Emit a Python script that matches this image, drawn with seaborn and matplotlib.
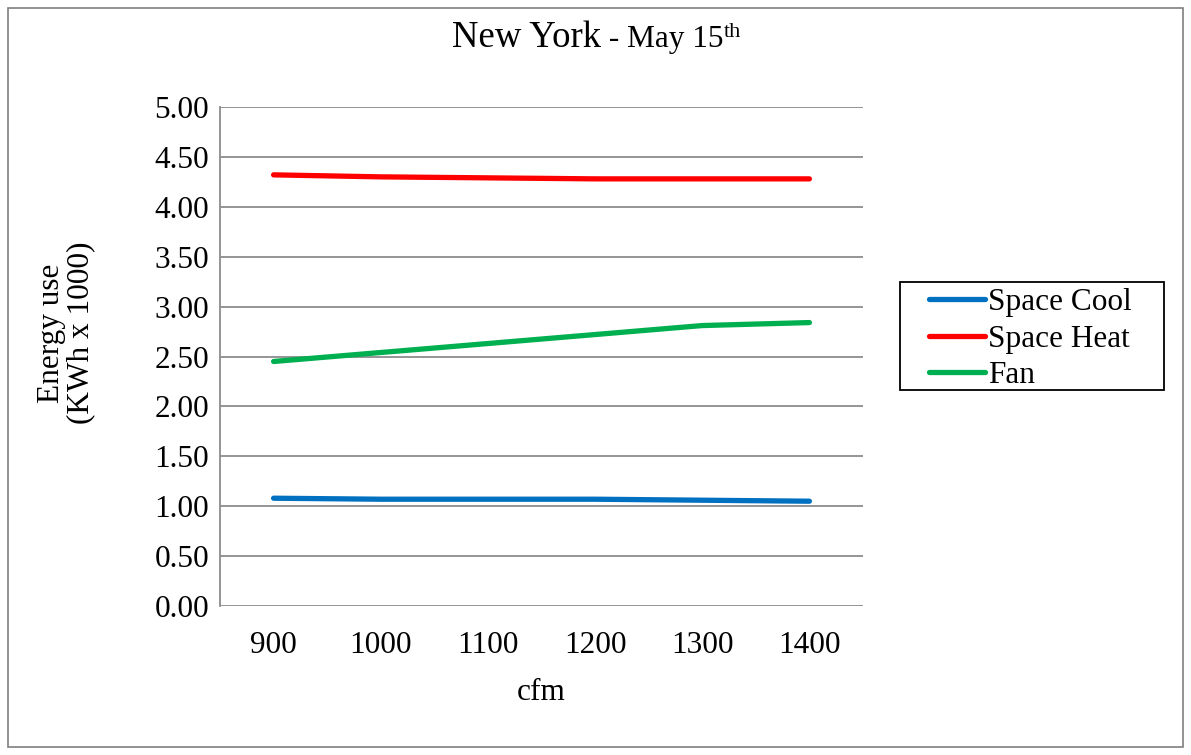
import matplotlib
matplotlib.use("Agg")
import matplotlib.pyplot as plt
import seaborn as sns
import pandas as pd
from matplotlib.patches import Rectangle

cfm = [900, 1000, 1100, 1200, 1300, 1400]
space_cool = [1.08, 1.07, 1.07, 1.07, 1.06, 1.05]
space_heat = [4.32, 4.30, 4.29, 4.28, 4.28, 4.28]
fan = [2.45, 2.54, 2.63, 2.72, 2.81, 2.84]
series_names = ["Space Cool", "Space Heat", "Fan"]
colors = ["#0070C0", "#FF0000", "#00B050"]
yticks = [0.0, 0.5, 1.0, 1.5, 2.0, 2.5, 3.0, 3.5, 4.0, 4.5, 5.0]

df = pd.concat([
    pd.DataFrame({"cfm": cfm, "value": vals, "series": name})
    for name, vals in zip(series_names, [space_cool, space_heat, fan])
])

sns.set_theme(style="white")
plt.rcParams["font.family"] = ["Liberation Serif", "DejaVu Serif"]
plt.rcParams["text.color"] = "black"
plt.rcParams["axes.labelcolor"] = "black"
plt.rcParams["xtick.color"] = "black"
plt.rcParams["ytick.color"] = "black"

FS = 22.5
W, H = 1191, 755
fig = plt.figure(figsize=(W / 100, H / 100), dpi=100)
ax = fig.add_axes([220 / W, 1 - 606 / H, (863 - 220) / W, (606 - 107) / H])

sns.lineplot(data=df, x="cfm", y="value", hue="series", palette=colors,
             hue_order=series_names, linewidth=3.8, ax=ax, legend=True,
             solid_capstyle="round")

ax.set_xlim(850, 1450)
ax.set_ylim(0, 5)
ax.set_yticks(yticks)
ax.set_yticklabels([f"{v:.2f}" for v in yticks], fontsize=FS)
ax.set_xticks(cfm)
ax.set_xticklabels([str(c) for c in cfm], fontsize=FS)
ax.tick_params(axis="both", length=0, pad=8, colors="black")
ax.tick_params(axis="x", pad=18)
ax.yaxis.grid(True, color="#8c8c8c", linewidth=1.3)
ax.xaxis.grid(False)
for s in ["top", "right", "bottom"]:
    ax.spines[s].set_visible(False)
ax.spines["left"].set_color("#8c8c8c")
ax.spines["left"].set_linewidth(1.3)
ax.set_axisbelow(True)

ax.set_xlabel("cfm", fontsize=FS, labelpad=13, color="black")
ax.set_ylabel("Energy use\n(KWh x 1000)", fontsize=FS, linespacing=1.0,
              va="center", color="black")
ax.yaxis.set_label_coords((66 - 220) / 643, (606 - 333) / 499)

leg = ax.legend(loc="center left", bbox_to_anchor=(929 / W, 1 - 339 / H),
                bbox_transform=fig.transFigure, fontsize=FS, frameon=False,
                handlelength=1.8, handletextpad=0.1, borderpad=0,
                labelspacing=0.24, borderaxespad=0)
for text in leg.get_texts():
    text.set_color("black")
for line in leg.get_lines():
    line.set_linewidth(3.8)
    line.set_solid_capstyle("round")

fig.patches.append(Rectangle((900 / W, 1 - 390 / H), (1164 - 900) / W,
                             (390 - 282) / H, transform=fig.transFigure,
                             fill=False, edgecolor="black", linewidth=1.3))

# Title composed of parts
fig.canvas.draw()
renderer = fig.canvas.get_renderer()
parts = [("New York", 26.5, 0), (" - May 15", 22.5, 0), ("th", 16, 10)]
base_y = H - 47
texts = []
x = 0
for txt, size, dy in parts:
    t = fig.text(x / W, (base_y + dy) / H, txt, fontsize=size, va="baseline",
                 ha="left", color="black")
    bb = t.get_window_extent(renderer)
    texts.append(t)
    x = bb.x1
x = 452
for t in texts:
    t.set_x(x / W)
    x = x + t.get_window_extent(renderer).width

fig.patches.append(Rectangle((8 / W, 8 / H), (1183 - 8) / W, (747 - 8) / H,
                             transform=fig.transFigure, fill=False,
                             edgecolor="#7f7f7f", linewidth=1.2))

fig.savefig("out.png", dpi=100, facecolor="white")
